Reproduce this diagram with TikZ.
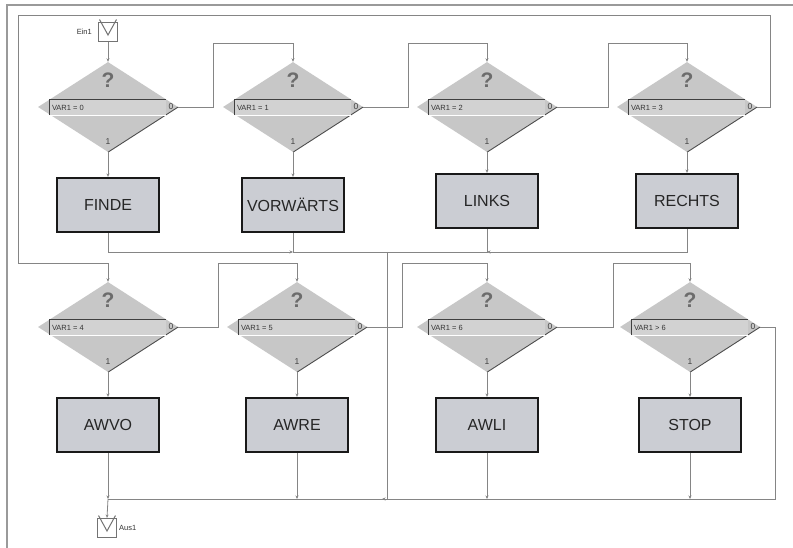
\documentclass[tikz,border=0pt]{standalone}
\usepackage{fontspec}
\setmainfont{Liberation Sans}
\usetikzlibrary{shapes.geometric,arrows.meta,calc}
\definecolor{diafill}{HTML}{C7C7C7}
\definecolor{barfill}{HTML}{D2D2D2}
\definecolor{boxfill}{HTML}{CBCDD3}
\definecolor{linec}{HTML}{858585}
\definecolor{framec}{HTML}{9A9A9A}
\tikzset{
  dia/.style={diamond, fill=diafill, draw=none, minimum width=140pt, minimum height=90pt, inner sep=0pt},
  barbox/.style={rectangle, fill=barfill, draw=none, minimum width=116pt, minimum height=15pt, inner sep=0pt},
  qm/.style={text=gray!85!black, font=\fontsize{21}{21}\selectfont\bfseries, inner sep=0pt},
  small/.style={font=\fontsize{7.5}{8}\selectfont, text=black!80, inner sep=0pt},
  digit/.style={font=\fontsize{8.5}{9}\selectfont, text=black!75, inner sep=0pt},
  act/.style={rectangle, draw=black!90, line width=2.2pt, fill=boxfill, minimum width=102pt, minimum height=54pt, inner sep=0pt, font=\fontsize{16}{16}\selectfont, text=black!85},
  port/.style={rectangle, draw=gray!90!black, line width=1pt, fill=white, minimum width=19pt, minimum height=19pt, inner sep=0pt},
  conn/.style={draw=linec, line width=0.8pt},
  arr/.style={-{Stealth[length=3.5pt,width=3pt]}},
  framel/.style={draw=framec, line width=1.4pt}
}
\newcommand\mkdec[4]{%
  \node[dia] (#1) at (#2,#3) {};
  \draw[gray!60!black, line width=0.9pt] (#1.east) -- (#1.south);
  \node[barbox] (#1bar) at ($(#1.center)+(0,0.5)$) {};
  \draw[gray!50!black, line width=0.9pt] (#1bar.south west) -- (#1bar.north west) -- (#1bar.north east);
  \draw[white, line width=1.2pt] (#1bar.south west) -- (#1bar.south east);
  \node[qm] (#1q) at ($(#1.center)+(0,-27)$) {?};
  \node[small, anchor=west] (#1t) at ($(#1bar.west)+(2,0)$) {#4};
  \node[digit] (#1z) at ($(#1.center)+(63,0)$) {0};
  \node[digit] (#1o) at ($(#1.center)+(0,35)$) {1};
}
\newcommand\mkport[3]{%
  \node[port] (#1) at (#2,#3) {};
  \draw[gray!90!black, line width=1pt] ($(#1.north west)+(1.5,-2.5)$) -- ($(#1.center)+(0,3)$) -- ($(#1.north east)+(-1.5,-2.5)$);
}
\begin{document}
\begin{tikzpicture}[x=1pt,y=-1pt]
\useasboundingbox (0,0) rectangle (793,548);
\fill[white] (0,0) rectangle (793,548);
\draw[framel] (7,548) -- (7,5) -- (793,5);

% ports
\mkport{ein}{108}{32}
\node[small, anchor=east] (einl) at ($(ein.west)+(-6,0)$) {Ein1};
\mkport{aus}{107}{528}
\node[small, anchor=west] (ausl) at ($(aus.east)+(2,0)$) {Aus1};

% decisions
\mkdec{d1}{108}{107}{VAR1 = 0}
\mkdec{d2}{293}{107}{VAR1 = 1}
\mkdec{d3}{487}{107}{VAR1 = 2}
\mkdec{d4}{687}{107}{VAR1 = 3}
\mkdec{d5}{108}{327}{VAR1 = 4}
\mkdec{d6}{297}{327}{VAR1 = 5}
\mkdec{d7}{487}{327}{VAR1 = 6}
\mkdec{d8}{690}{327}{VAR1 > 6}

% actions
\node[act] (b1) at (108,205) {FINDE};
\node[act] (b2) at (293,205) {VORWÄRTS};
\node[act] (b3) at (487,201) {LINKS};
\node[act] (b4) at (687,201) {RECHTS};
\node[act] (b5) at (108,425) {AWVO};
\node[act] (b6) at (297,425) {AWRE};
\node[act] (b7) at (487,425) {AWLI};
\node[act] (b8) at (690,425) {STOP};

% junction coordinates
\coordinate (m1) at (293,252);
\coordinate (m3) at (487,252);
\coordinate (mv) at (387,252);
\coordinate (j5) at (108,499);
\coordinate (jr) at (775,499);
\coordinate (jv) at (382,499);

% entry
\draw[conn,arr] (ein.south) -- (d1.north);

% decision -> action
\foreach \i in {1,...,8}{
  \draw[conn,arr] (d\i.south) -- (b\i.north);
}

% loops row 1
\draw[conn,arr] (d1.east) -- (213,107) -- (213,43) -| (d2.north);
\draw[conn,arr] (d2.east) -- (408,107) -- (408,43) -| (d3.north);
\draw[conn,arr] (d3.east) -- (608,107) -- (608,43) -| (d4.north);
\draw[conn,arr] (d4.east) -- (770,107) -- (770,15) -- (18,15) -- (18,263) -| (d5.north);

% loops row 2
\draw[conn,arr] (d5.east) -- (218,327) -- (218,263) -| (d6.north);
\draw[conn,arr] (d6.east) -- (402,327) -- (402,263) -| (d7.north);
\draw[conn,arr] (d7.east) -- (613,327) -- (613,263) -| (d8.north);
\draw[conn] (d8.east) -| (jr) -- (j5);

% top merges
\draw[conn,arr] (b1.south) |- (m1);
\draw[conn] (b2.south) -- (m1) -- (mv);
\draw[conn,arr] (b4.south) |- (m3);
\draw[conn] (b3.south) -- (m3) -- (mv);
\draw[conn,arr] (mv) |- (jv);

% bottom merges
\draw[conn,arr] (b5.south) -- (j5);
\draw[conn,arr] (j5) -- (aus.north);
\draw[conn,arr] (b6.south) -- (b6.south |- j5);
\draw[conn,arr] (b7.south) -- (b7.south |- j5);
\draw[conn,arr] (b8.south) -- (b8.south |- j5);
\end{tikzpicture}
\end{document}
